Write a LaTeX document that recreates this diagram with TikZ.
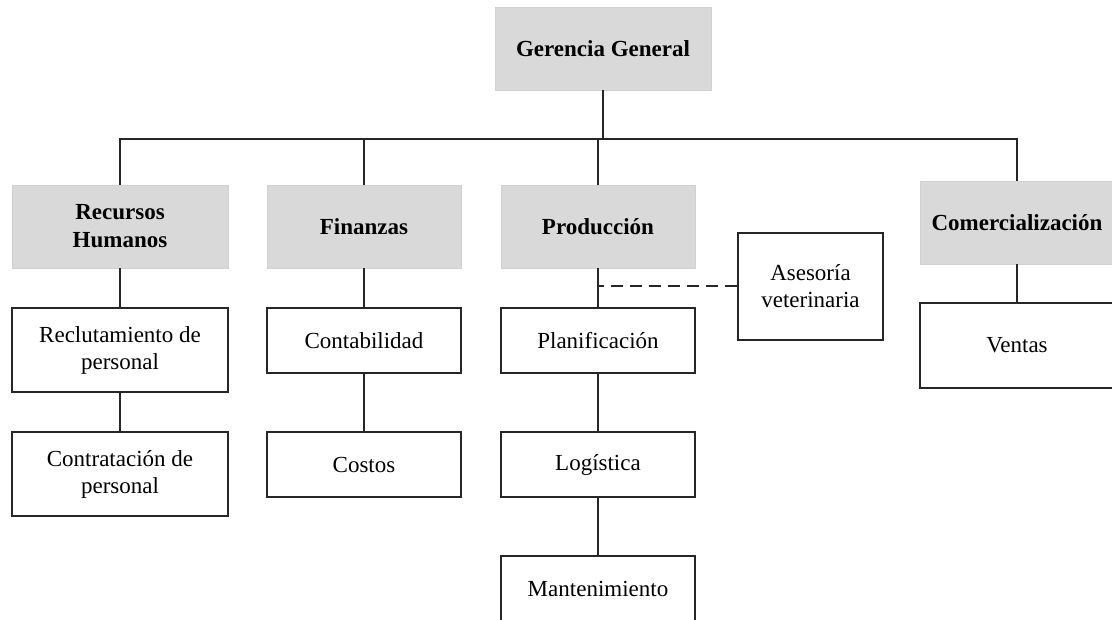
\documentclass[tikz,border=0pt]{standalone}
\usepackage{fontspec}
\setmainfont{Liberation Serif}
\begin{document}
\begin{tikzpicture}[x=1pt,y=-1pt,
  every node/.style={font=\fontsize{23}{27}\selectfont, align=center, inner sep=0pt},
  headbox/.style={draw=black!18, fill=black!15, font=\fontsize{23}{28}\selectfont\bfseries, line width=0.8pt},
  unitbox/.style={draw=black!85, fill=white, line width=1.3pt},
  link/.style={draw=black!85, line width=1.8pt}]
\useasboundingbox (0,0) rectangle (1112,620);
\clip (0,0) rectangle (1112,620);
% heads
\node[headbox, minimum width=216pt, minimum height=83pt] (gg) at (603,48.5) {Gerencia General};
\node[headbox, minimum width=216pt, minimum height=83pt] (rh) at (120,226.5) {Recursos\\Humanos};
\node[headbox, minimum width=194pt, minimum height=83pt] (fin) at (364,226.5) {Finanzas};
\node[headbox, minimum width=194pt, minimum height=83pt] (prod) at (598,226.5) {Producción};
\node[headbox, minimum width=194pt, minimum height=83pt] (com) at (1017,222.5) {Comercialización};
% units
\node[unitbox, minimum width=145pt, minimum height=107pt] (ase) at (810.5,286.5) {Asesoría\\veterinaria};
\node[unitbox, minimum width=216pt, minimum height=84pt] (rec) at (120,350) {Reclutamiento de\\personal};
\node[unitbox, minimum width=216pt, minimum height=84pt] (con) at (120,474) {Contratación de\\personal};
\node[unitbox, minimum width=194pt, minimum height=65pt] (cont) at (364,340.5) {Contabilidad};
\node[unitbox, minimum width=194pt, minimum height=65pt] (cos) at (364,464.5) {Costos};
\node[unitbox, minimum width=194pt, minimum height=65pt] (plan) at (598,340.5) {Planificación};
\node[unitbox, minimum width=194pt, minimum height=65pt] (log) at (598,464.5) {Logística};
\node[unitbox, minimum width=194pt, minimum height=65pt] (man) at (598,588.5) {Mantenimiento};
\node[unitbox, minimum width=194pt, minimum height=85pt] (ven) at (1017,345.5) {Ventas};
% connectors
\coordinate (bus) at (603,139);
\draw[link] (gg.south) -- (bus);
\draw[link] (rh.north) |- (bus) -| (com.north);
\draw[link] (fin.north) -- (fin.north |- bus);
\draw[link] (prod.north) -- (prod.north |- bus);
\draw[link] (rh.south) -- (rec.north);
\draw[link] (rec.south) -- (con.north);
\draw[link] (fin.south) -- (cont.north);
\draw[link] (cont.south) -- (cos.north);
\draw[link] (prod.south) -- (plan.north);
\draw[link] (plan.south) -- (log.north);
\draw[link] (log.south) -- (man.north);
\draw[link] (com.south) -- (ven.north);
\draw[link, line width=2pt, dash pattern=on 12pt off 7pt] (ase.west) -- (ase.west -| prod.south);
\end{tikzpicture}
\end{document}
